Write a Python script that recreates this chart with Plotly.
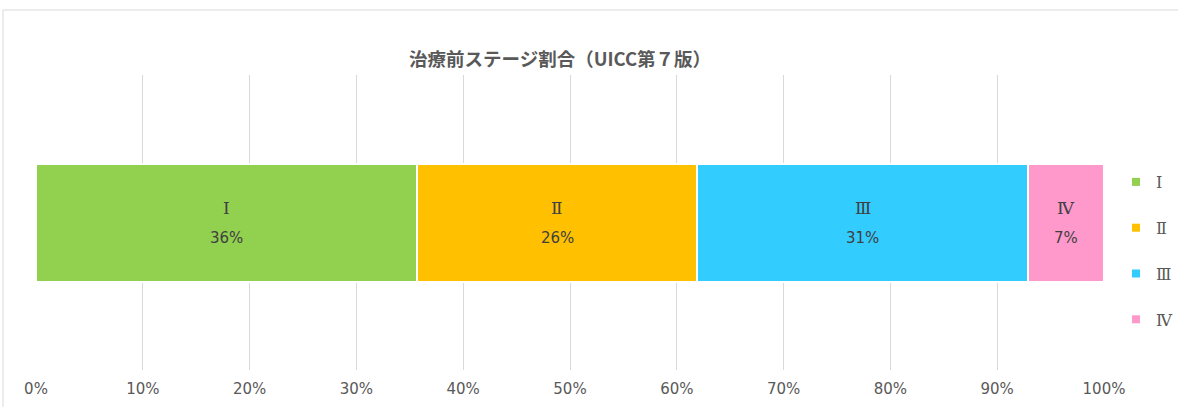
import plotly.graph_objects as go

stages = ["Ⅰ", "Ⅱ", "Ⅲ", "Ⅳ"]
shares = [0.357, 0.262, 0.310, 0.071]
colors = ["#92D050", "#FFC000", "#33CCFF", "#FF99CC"]
category = ["治療前"]
title = "治療前ステージ割合（UICC第７版）"

L, R, T, B = 36, 74, 75, 37
W, H = 1178, 407
pw, ph = W - L - R, H - T - B

serif = "DejaVu Serif, Noto Sans CJK JP"
sans = "DejaVu Sans, Verdana, Noto Sans CJK JP"

fig = go.Figure()
cum = 0.0
for s, v, c in zip(stages, shares, colors):
    fig.add_trace(go.Bar(
        x=[v], y=category, orientation="h", name=s,
        marker=dict(color=c, line=dict(color="white", width=2)),
        width=0.4, showlegend=False,
    ))
    mid = cum + v / 2
    fig.add_annotation(x=mid, y=category[0], text=s, showarrow=False, yshift=15,
                       font=dict(family=serif, size=17, color="#404040"))
    fig.add_annotation(x=mid, y=category[0], text=f"{round(v*100)}%", showarrow=False, yshift=-15,
                       font=dict(family=sans, size=15, color="#404040"))
    cum += v

# legend entries (small square markers like the original)
for s, c in zip(stages, colors):
    fig.add_trace(go.Scatter(
        x=[None], y=[None], mode="markers", name=s, legendgroup=s,
        marker=dict(symbol="square", size=8, color=c),
    ))

fig.update_layout(
    width=W, height=H, barmode="stack",
    margin=dict(l=L, r=R, t=T, b=B, autoexpand=False),
    paper_bgcolor="white", plot_bgcolor="white",
    showlegend=True,
    legend=dict(x=(1116 - L) / pw, y=(H - B - 251) / ph, xanchor="left", yanchor="middle",
                traceorder="grouped", tracegroupgap=22,
                font=dict(family=serif, size=16, color="#595959"),
                itemwidth=30, bgcolor="rgba(0,0,0,0)"),
    xaxis=dict(range=[0, 1], tickvals=[i / 10 for i in range(11)], tickformat=".0%",
               showgrid=True, gridcolor="#D9D9D9", gridwidth=1, zeroline=False,
               showline=False, ticks="", ticklabelstandoff=8,
               tickfont=dict(family=sans, size=15, color="#595959")),
    yaxis=dict(range=[-0.5, 0.5], showticklabels=False, showgrid=False, zeroline=False,
               showline=False, type="category"),
)
fig.add_annotation(xref="paper", yref="paper", x=(560 - L) / pw, y=(H - B - 58) / ph,
                   text=f"<b>{title}</b>", showarrow=False, xanchor="center", yanchor="middle",
                   font=dict(family="Noto Sans CJK JP", size=18.5, color="#595959"))
# chart frame (top and left edges)
x0 = (3 - L) / pw
ytop = (H - B - 10) / ph
fig.add_shape(type="line", xref="paper", yref="paper", x0=x0, x1=(W - L) / pw + 0.01, y0=ytop, y1=ytop,
              line=dict(color="#D9D9D9", width=1))
fig.add_shape(type="line", xref="paper", yref="paper", x0=x0, x1=x0, y0=ytop, y1=-(B + 5) / ph,
              line=dict(color="#D9D9D9", width=1))

fig.write_html("out.html", config={"displayModeBar": False},
               post_script="document.body.style.margin='0';document.body.style.overflow='hidden';")
